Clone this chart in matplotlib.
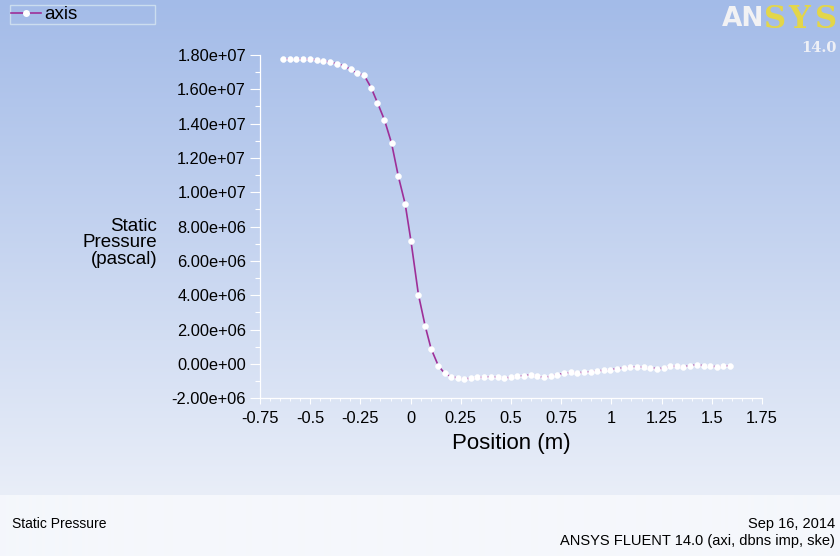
import numpy as np
import matplotlib
matplotlib.use('Agg')
import matplotlib.pyplot as plt
from matplotlib.ticker import FixedLocator, MultipleLocator, FixedFormatter
from matplotlib.lines import Line2D

# ---------------- data ----------------
position = [-0.636, -0.603, -0.570, -0.536, -0.500, -0.467, -0.434, -0.400,
            -0.365, -0.330, -0.299, -0.266, -0.231, -0.196, -0.165, -0.130,
            -0.095, -0.061, -0.027, 0.002, 0.039, 0.073, 0.102, 0.138,
            0.169, 0.201, 0.234, 0.267, 0.300, 0.333, 0.366, 0.400,
            0.433, 0.466, 0.499, 0.532, 0.565, 0.598, 0.631, 0.664,
            0.697, 0.731, 0.764, 0.797, 0.830, 0.863, 0.896, 0.929,
            0.962, 0.995, 1.028, 1.062, 1.095, 1.128, 1.161, 1.194,
            1.227, 1.260, 1.293, 1.326, 1.359, 1.393, 1.426, 1.459,
            1.492, 1.525, 1.558, 1.591]
pressure = [1.777e7, 1.777e7, 1.777e7, 1.777e7, 1.774e7, 1.771e7, 1.767e7, 1.757e7,
            1.748e7, 1.736e7, 1.716e7, 1.693e7, 1.681e7, 1.608e7, 1.522e7, 1.421e7,
            1.287e7, 1.093e7, 9.32e6, 7.15e6, 4.04e6, 2.19e6, 8.9e5, -1.0e5,
            -5.4e5, -7.4e5, -8.2e5, -8.7e5, -8.4e5, -7.8e5, -7.8e5, -7.4e5,
            -7.8e5, -8.2e5, -7.8e5, -7.2e5, -6.8e5, -6.4e5, -7.2e5, -7.8e5,
            -7.2e5, -6.2e5, -5.5e5, -4.9e5, -5.1e5, -4.9e5, -4.5e5, -4.1e5,
            -3.7e5, -3.3e5, -2.9e5, -2.3e5, -1.7e5, -1.7e5, -2.0e5, -2.3e5,
            -2.7e5, -2.6e5, -1.4e5, -1.4e5, -1.7e5, -1.0e5, -6.0e4, -1.0e5,
            -1.4e5, -1.6e5, -1.4e5, -1.0e5]

x_ticks = [-0.75, -0.5, -0.25, 0, 0.25, 0.5, 0.75, 1, 1.25, 1.5, 1.75]
x_tick_labels = ['-0.75', '-0.5', '-0.25', '0', '0.25', '0.5', '0.75', '1',
                 '1.25', '1.5', '1.75']
y_ticks = [-2e6, 0, 2e6, 4e6, 6e6, 8e6, 1e7, 1.2e7, 1.4e7, 1.6e7, 1.8e7]
y_tick_labels = ['-2.00e+06', '0.00e+00', '2.00e+06', '4.00e+06', '6.00e+06',
                 '8.00e+06', '1.00e+07', '1.20e+07', '1.40e+07', '1.60e+07',
                 '1.80e+07']
series_name = 'axis'

# ---------------- figure ----------------
plt.rcParams['font.family'] = ['Liberation Sans', 'DejaVu Sans']
W, H = 840, 556
fig = plt.figure(figsize=(W / 100, H / 100), dpi=100)

# background gradient
bg = fig.add_axes([0, 0, 1, 1], zorder=-10)
top_c = np.array([163, 187, 232]) / 255.0
mid_c = np.array([233, 238, 248]) / 255.0
low_c = np.array([245, 247, 252]) / 255.0
img = np.zeros((H, 1, 3))
for r in range(H):
    if r < 495:
        t = r / 495.0
        img[r, 0] = top_c * (1 - t) + mid_c * t
    else:
        img[r, 0] = low_c
bg.imshow(img, aspect='auto', extent=[0, 1, 0, 1], origin='upper',
          interpolation='bilinear')
bg.set_axis_off()

# main axes
left_px, right_px, top_px, bot_px = 260, 762, 55, 398.3
ax = fig.add_axes([left_px / W, 1 - bot_px / H, (right_px - left_px) / W,
                   (bot_px - top_px) / H])
ax.set_facecolor('none')
ax.set_xlim(-0.75, 1.75)
ax.set_ylim(-2e6, 1.8e7)

line_color = '#9e2f98'
ax.plot(position, pressure, color=line_color, lw=1.2, marker='o', ms=4.2,
        mfc='white', mec='white', mew=0.4, zorder=3, clip_on=False)

for s in ['top', 'right']:
    ax.spines[s].set_visible(False)
for s in ['left', 'bottom']:
    ax.spines[s].set_color('white')
    ax.spines[s].set_linewidth(0.9)

ax.xaxis.set_major_locator(FixedLocator(x_ticks))
ax.xaxis.set_major_formatter(FixedFormatter(x_tick_labels))
ax.yaxis.set_major_locator(FixedLocator(y_ticks))
ax.yaxis.set_major_formatter(FixedFormatter(y_tick_labels))
ax.xaxis.set_minor_locator(MultipleLocator(0.05))
ax.yaxis.set_minor_locator(MultipleLocator(1e6))
ax.tick_params(axis='y', which='major', length=7, width=0.8, color='white',
               labelsize=11.8, pad=3, labelcolor='black')
ax.tick_params(axis='y', which='minor', length=3.5, width=0.8, color='white')
ax.tick_params(axis='x', which='major', length=4, width=0.8, color='white',
               labelsize=11.8, pad=5, labelcolor='black')
ax.tick_params(axis='x', which='minor', length=2, width=0.6, color='white')

ax.set_xlabel('Position (m)', fontsize=16, labelpad=5)
fig.text(157 / W, 1 - 243 / H, 'Static\nPressure\n(pascal)', ha='right',
         va='center', fontsize=13.5, linespacing=0.98, multialignment='right')

# legend
handle = Line2D([], [], color=line_color, lw=1.2, marker='o', ms=4,
                mfc='white', mec='white')
leg = fig.legend([handle], [series_name], loc='upper left',
                 bbox_to_anchor=(10 / W, 1 - 24 / H, 145 / W, 19 / H),
                 mode='expand', borderaxespad=0, frameon=True, fancybox=False,
                 handlelength=1.6, handletextpad=0.2, borderpad=0.05,
                 fontsize=13.5)
leg.get_frame().set_edgecolor('#d6e6f2')
leg.get_frame().set_facecolor('none')
leg.get_frame().set_linewidth(1.0)

# ANSYS logo text
fig.text(722 / W, 1 - 19 / H, 'AN', color='#f2f2f4', fontsize=19,
         fontweight='bold', ha='left', va='center', family='DejaVu Sans')
for ch, xp in zip('SYS', [764, 788, 815]):
    fig.text(xp / W, 1 - 19 / H, ch, color='#e3d64a', fontsize=22,
             fontweight='bold', ha='left', va='center', family='DejaVu Serif')
fig.text(801 / W, 1 - 48 / H, '14.0', color='#eef0f6', fontsize=10.5,
         fontweight='bold', ha='left', va='center', family='DejaVu Serif')

# footer text
fig.text(12 / W, 1 - 524 / H, 'Static Pressure', fontsize=10, ha='left',
         va='center', color='black')
fig.text(835 / W, 1 - 524 / H, 'Sep 16, 2014', fontsize=10.5, ha='right',
         va='center', color='black')
fig.text(835 / W, 1 - 541 / H, 'ANSYS FLUENT 14.0 (axi, dbns imp, ske)',
         fontsize=10.5, ha='right', va='center', color='black')

fig.savefig('out.png', dpi=100)
